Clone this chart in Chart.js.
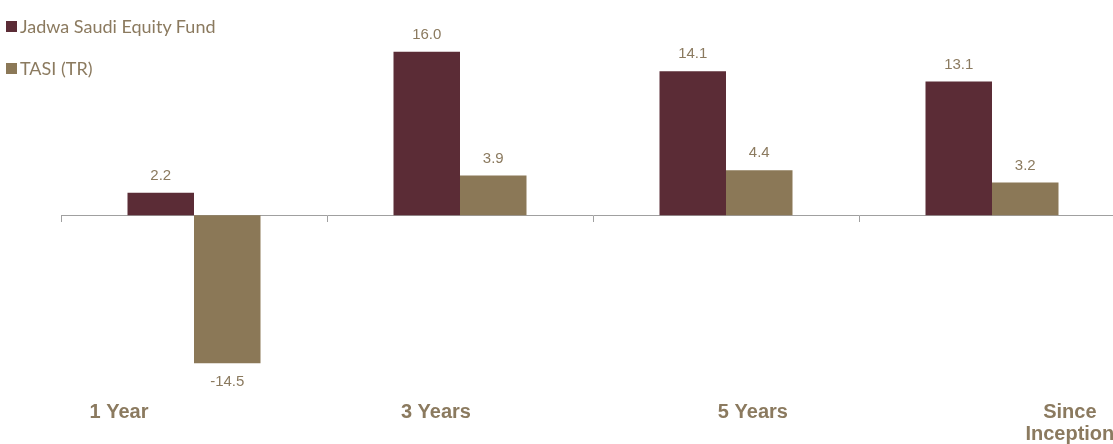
<!DOCTYPE html>
<html>
<head>
<meta charset="utf-8">
<script src="https://cdn.jsdelivr.net/npm/chart.js@4.4.0/dist/chart.umd.min.js"></script>
<style>
  html, body { margin: 0; padding: 0; background: #fff; overflow: hidden; width: 1113px; height: 444px; }
  #wrap { position: relative; width: 1140px; height: 444px; }
  #legend { position: absolute; left: 6px; top: 14px; font-family: Lato, "Open Sans", sans-serif; font-size: 18px; color: #8b7a5f; }
  .item { display: flex; align-items: center; height: 24px; margin-bottom: 18px; }
  .box { width: 11px; height: 11px; margin-right: 3px; }
</style>
</head>
<body>
<div id="wrap">
  <canvas id="chart" width="1140" height="444"></canvas>
  <div id="legend"></div>
</div>
<script>
// periods shown under the chart
const periods = ['1 Year', '3 Years', '5 Years', ['Since', 'Inception']];
const seriesNames = ['Jadwa Saudi Equity Fund', 'TASI (TR)'];
const fundReturns = [2.2, 16.0, 14.1, 13.1];
const tasiReturns = [-14.5, 3.9, 4.4, 3.2];
const colors = ['#5b2c36', '#8b7857'];
const textColor = '#8b7a5f';

// value labels above / below each bar
const valueLabels = {
  id: 'valueLabels',
  afterDatasetsDraw(chart) {
    const ctx = chart.ctx;
    ctx.save();
    ctx.font = '15px "Liberation Sans", Arial, sans-serif';
    ctx.fillStyle = textColor;
    ctx.textAlign = 'center';
    ctx.textBaseline = 'middle';
    chart.data.datasets.forEach((ds, i) => {
      chart.getDatasetMeta(i).data.forEach((bar, j) => {
        const v = ds.data[j];
        const y = v >= 0 ? bar.y - 17 : bar.y + 19;
        ctx.fillText(v.toFixed(1), bar.x, y);
      });
    });
    ctx.restore();
  }
};

const chart = new Chart(document.getElementById('chart'), {
  type: 'bar',
  data: {
    labels: periods,
    datasets: [
      { label: seriesNames[0], data: fundReturns, backgroundColor: colors[0] },
      { label: seriesNames[1], data: tasiReturns, backgroundColor: colors[1] }
    ]
  },
  options: {
    responsive: false,
    animation: false,
    datasets: { bar: { categoryPercentage: 0.5, barPercentage: 1.0 } },
    layout: { padding: { left: 61, right: 15, top: 11, bottom: -3 } },
    plugins: { legend: { display: false }, tooltip: { enabled: false } },
    scales: {
      x: {
        position: { y: 0 },
        offset: true,
        ticks: { display: false },
        grid: { offset: true, drawOnChartArea: false, drawTicks: true, tickLength: 6, color: '#a0a0a0' },
        border: { display: true, color: '#a0a0a0', width: 1 }
      },
      // label axis: the period names sit on their own spacing
      x2: {
        type: 'linear',
        position: 'bottom',
        offset: false,
        min: -0.183,
        max: 3.174,
        afterBuildTicks(axis) {
          axis.ticks = periods.map((p, i) => ({ value: i }));
        },
        ticks: {
          padding: 2,
          maxRotation: 0,
          autoSkip: false,
          color: textColor,
          font: { family: '"Liberation Sans", Arial, sans-serif', size: 20, weight: 'bold', lineHeight: 1.1 },
          callback: (v) => periods[v]
        },
        grid: { display: false, drawTicks: false, offset: false },
        border: { display: false }
      },
      y: {
        display: false,
        min: -18,
        max: 20
      }
    }
  },
  plugins: [valueLabels]
});

// legend
const legend = document.getElementById('legend');
chart.data.datasets.forEach(ds => {
  const item = document.createElement('div');
  item.className = 'item';
  item.innerHTML = `<span class="box" style="background:${ds.backgroundColor}"></span><span>${ds.label}</span>`;
  legend.appendChild(item);
});
</script>
</body>
</html>
